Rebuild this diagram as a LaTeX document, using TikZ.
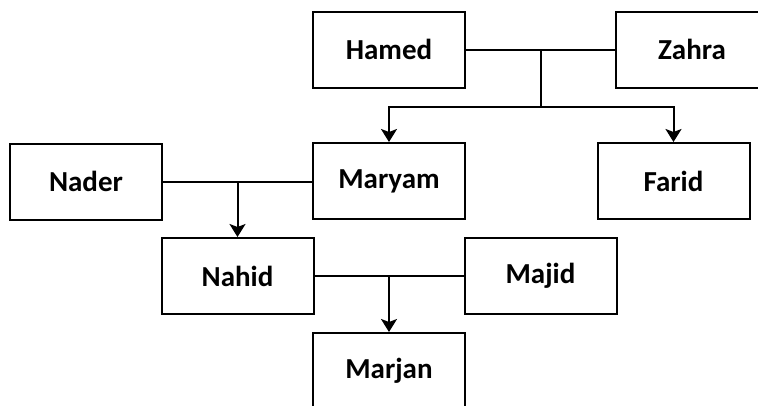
\documentclass[tikz,border=0pt]{standalone}
\usepackage{fontspec}
\setmainfont{Carlito}
\usepackage{tikz}
\usetikzlibrary{arrows}
\usetikzlibrary{arrows.meta}
\usetikzlibrary{calc}

\begin{document}
\begin{tikzpicture}[x=1pt,y=-1pt]
\tikzset{>={Stealth[width=16pt,length=13pt,inset=3pt]}}
\tikzstyle{person} =[rectangle, draw = black, line width=2pt, minimum width=152pt, minimum height=76pt, inner sep=0pt, font=\fontsize{29}{32}\selectfont\bfseries]
\tikzstyle{link} =[line width=2pt]

\clip (0,0) rectangle (758,405);

\node[person](hamed) at (389,49.5){Hamed};
\node[person](zahra) at (692,49.5){Zahra};
\node[person](maryam) at (389,181){Maryam};
\node[person](farid) at (673.5,181){Farid};
\node[person](nader) at (86,181.5){Nader};
\node[person](nahid) at (237.5,276){Nahid};
\node[person](majid) at (540.5,276){Majid};
\node[person](marjan) at (389,371){Marjan};

% Hamed + Zahra
\draw[link] (hamed) -- (zahra);
\coordinate (hz) at ($(hamed.east)!0.5!(zahra.west)$);
\coordinate (hzdown) at ($(hz)+(0,57)$);
\draw[link] (hz) -- (hzdown);
\draw[link,->] (hzdown) -| (maryam.north);
\draw[link,->] (hzdown) -| (farid.north);

% Nader + Maryam
\draw[link] (nader.east) -- (nader.east -| maryam.west);
\coordinate (nm) at ($(nader.east)!0.5!(nader.east -| maryam.west)$);
\draw[link,->] (nm) -- (nahid.north);

% Nahid + Majid
\draw[link] (nahid) -- (majid);
\coordinate (nj) at ($(nahid.east)!0.5!(majid.west)$);
\draw[link,->] (nj) -- (marjan.north);

\end{tikzpicture}
\end{document}
